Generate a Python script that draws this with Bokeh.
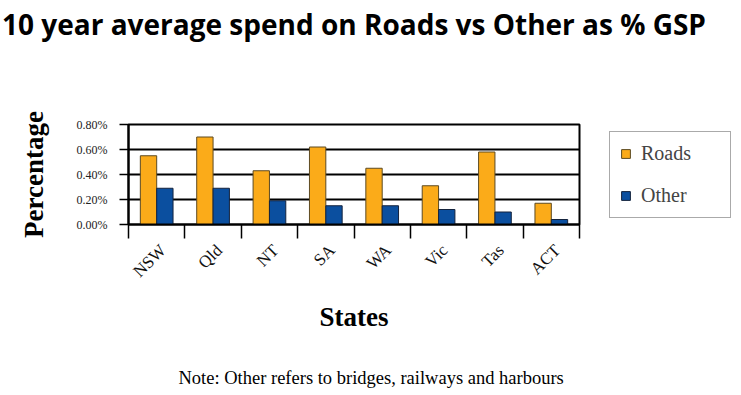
import math
from bokeh.plotting import figure
from bokeh.models import (Range1d, FixedTicker, PrintfTickFormatter, Legend,
                          LegendItem, Title, ColumnDataSource, LinearAxis)
from bokeh.transform import dodge
from bokeh.embed import file_html
from bokeh.resources import INLINE

# ---- data ----
states = ["NSW", "Qld", "NT", "SA", "WA", "Vic", "Tas", "ACT"]
roads = [0.55, 0.70, 0.43, 0.62, 0.45, 0.31, 0.58, 0.17]
other = [0.29, 0.29, 0.19, 0.15, 0.15, 0.12, 0.10, 0.04]
y_ticks = [0.0, 0.2, 0.4, 0.6, 0.8]
series_names = ["Roads", "Other"]
title_text = "10 year average spend on Roads vs Other as % GSP"
note_text = "Note: Other refers to bridges, railways and harbours"
x_title = "States"
y_title = "Percentage"

# ---- layout ----
n = len(states)
Y_MAX = y_ticks[-1]
FRAME_W, FRAME_H = 451, 100
BORDER_L, BORDER_T, BORDER_R, BORDER_B = 128, 124, 154, 163

SERIF = "Liberation Serif"
ROADS_FILL, ROADS_LINE = "#fbab19", "#5c4a22"
OTHER_FILL, OTHER_LINE = "#0b4f9f", "#14233d"

p = figure(frame_width=FRAME_W, frame_height=FRAME_H,
           min_border_left=BORDER_L, min_border_right=BORDER_R,
           min_border_top=BORDER_T, min_border_bottom=BORDER_B,
           x_range=Range1d(0, n), y_range=Range1d(0, Y_MAX),
           output_backend="svg", toolbar_location=None,
           background_fill_color="white", border_fill_color="white")

# chart title drawn as the label of an otherwise invisible top axis
top_axis = LinearAxis(ticker=FixedTicker(ticks=[]),
                      major_tick_out=0, major_tick_in=0,
                      major_tick_line_color=None, minor_tick_line_color=None,
                      axis_line_color=None, major_label_standoff=0,
                      axis_label=title_text, axis_label_standoff=82,
                      axis_label_text_font="Open Sans",
                      axis_label_text_font_style="bold",
                      axis_label_text_font_size="28px",
                      axis_label_text_color="black")
p.add_layout(top_axis, "above")

src = ColumnDataSource(dict(x=[i + 0.5 for i in range(n)], roads=roads, other=other))
BW = 0.29
r1 = p.vbar(x=dodge("x", -BW / 2, range=p.x_range), top="roads", width=BW, source=src,
            fill_color=ROADS_FILL, line_color=ROADS_LINE, line_width=1)
r2 = p.vbar(x=dodge("x", BW / 2, range=p.x_range), top="other", width=BW, source=src,
            fill_color=OTHER_FILL, line_color=OTHER_LINE, line_width=1)

# y axis
yaxis = p.yaxis[0]
yaxis.ticker = FixedTicker(ticks=y_ticks)
yaxis.formatter = PrintfTickFormatter(format="%.2f%%")
yaxis.major_label_text_font = SERIF
yaxis.major_label_text_font_size = "12px"
yaxis.major_label_text_color = "#222222"
yaxis.major_tick_out = 9
yaxis.major_tick_in = 0
yaxis.major_tick_line_width = 1.5
yaxis.major_tick_line_color = "black"
yaxis.minor_tick_line_color = None
yaxis.major_label_standoff = 12
yaxis.axis_line_width = 2
yaxis.axis_line_color = "black"
yaxis.axis_label = y_title
yaxis.axis_label_text_font = SERIF
yaxis.axis_label_text_font_style = "bold"
yaxis.axis_label_text_font_size = "27px"
yaxis.axis_label_text_color = "black"
yaxis.axis_label_standoff = 25

# x axis: labels near category centers, boundary ticks as minor ticks
LABEL_SHIFT = 0.11
xaxis = p.below[0]
xaxis.ticker = FixedTicker(ticks=[i + 0.5 + LABEL_SHIFT for i in range(n)],
                           minor_ticks=list(range(n + 1)))
xaxis.major_label_overrides = {i + 0.5 + LABEL_SHIFT: s for i, s in enumerate(states)}
xaxis.major_label_orientation = math.pi / 4
xaxis.major_label_text_font = SERIF
xaxis.major_label_text_font_size = "17px"
xaxis.major_label_text_color = "#111111"
xaxis.major_tick_out = 0
xaxis.major_tick_in = 0
xaxis.minor_tick_out = 14
xaxis.minor_tick_in = 0
xaxis.minor_tick_line_color = "black"
xaxis.minor_tick_line_width = 1.5
xaxis.major_label_standoff = 9
xaxis.axis_line_width = 2
xaxis.axis_line_color = "black"
xaxis.axis_label = x_title
xaxis.axis_label_text_font = SERIF
xaxis.axis_label_text_font_style = "bold"
xaxis.axis_label_text_font_size = "27px"
xaxis.axis_label_text_color = "black"
xaxis.axis_label_standoff = 11

# grid
p.xgrid.visible = False
p.ygrid.ticker = FixedTicker(ticks=y_ticks)
p.ygrid.grid_line_color = "black"
p.ygrid.grid_line_width = 1.8
p.outline_line_color = "black"
p.outline_line_width = 2

# legend in right panel
legend = Legend(items=[LegendItem(label=series_names[0], renderers=[r1]),
                       LegendItem(label=series_names[1], renderers=[r2])],
                location=(30, 6), margin=0, padding=10, spacing=19,
                glyph_width=11, glyph_height=11, label_width=79, label_height=20,
                label_standoff=10, label_text_font=SERIF, label_text_font_size="20px",
                border_line_color="#555555", border_line_width=1.2,
                background_fill_color="white", background_fill_alpha=1)
p.add_layout(legend, "right")

# note below
note = Title(text=note_text, align="left", offset=50, text_font=SERIF,
             text_font_style="normal", text_font_size="18.5px", text_color="black",
             standoff=63)
p.add_layout(note, "below")

open("out.html", "w").write(file_html(p, INLINE))
